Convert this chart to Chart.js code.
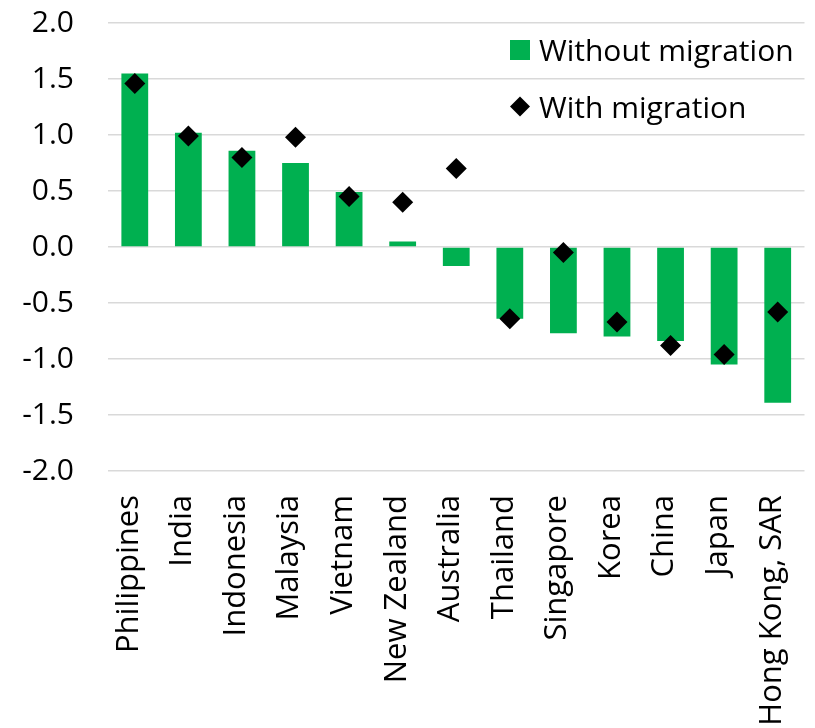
<!DOCTYPE html>
<html>
<head>
<meta charset="utf-8">
<script src="https://cdn.jsdelivr.net/npm/chart.js@4"></script>
<style>
  html, body { margin: 0; padding: 0; background: #fff; }
  #wrap { width: 815px; height: 728px; }
</style>
</head>
<body>
<div id="wrap"><canvas id="chart" width="815" height="728"></canvas></div>
<script>
var countries = ['Philippines', 'India', 'Indonesia', 'Malaysia', 'Vietnam', 'New Zealand',
    'Australia', 'Thailand', 'Singapore', 'Korea', 'China', 'Japan', 'Hong Kong, SAR'];
var withoutMigration = [1.55, 1.02, 0.86, 0.75, 0.49, 0.05, -0.17, -0.64, -0.77, -0.80, -0.84, -1.05, -1.39];
var withMigration = [1.46, 0.99, 0.80, 0.98, 0.45, 0.40, 0.70, -0.64, -0.05, -0.67, -0.88, -0.96, -0.58];
var yMin = -2.0, yMax = 2.0, yStep = 0.5;

var GREEN = '#00B050';
var FONT = '"Open Sans", "Noto Sans", sans-serif';

// legend drawn inside the plot, top right, one item per row
var sideLegend = {
    id: 'sideLegend',
    afterDraw: function(chart) {
        var ctx = chart.ctx;
        ctx.save();
        ctx.font = '30px ' + FONT;
        ctx.textBaseline = 'alphabetic';
        ctx.textAlign = 'left';
        // bars
        ctx.fillStyle = GREEN;
        ctx.fillRect(510, 40, 20, 20);
        ctx.fillStyle = '#000';
        ctx.fillText(chart.data.datasets[0].label, 539, 60.5);
        // markers
        ctx.beginPath();
        ctx.moveTo(520, 96.5); ctx.lineTo(530, 106.5); ctx.lineTo(520, 116.5); ctx.lineTo(510, 106.5);
        ctx.closePath();
        ctx.fill();
        ctx.fillText(chart.data.datasets[1].label, 539, 117.5);
        ctx.restore();
    }
};

new Chart(document.getElementById('chart'), {
    data: {
        labels: countries,
        datasets: [{
            type: 'bar',
            label: 'Without migration',
            data: withoutMigration,
            backgroundColor: GREEN,
            categoryPercentage: 1.0,
            barPercentage: 0.5,
            order: 2
        }, {
            type: 'line',
            label: 'With migration',
            data: withMigration,
            showLine: false,
            pointStyle: 'rectRot',
            pointRadius: 10.5,
            pointHoverRadius: 10.5,
            backgroundColor: '#000',
            borderColor: '#000',
            borderWidth: 0,
            order: 1
        }]
    },
    options: {
        responsive: false,
        animation: false,
        layout: { padding: { top: 23, right: 10, left: 0, bottom: 0 } },
        plugins: { legend: { display: false }, tooltip: { enabled: false } },
        scales: {
            x: {
                grid: { display: false },
                border: { display: false },
                ticks: {
                    minRotation: 90, maxRotation: 90, autoSkip: false,
                    padding: 16,
                    labelOffset: -6,
                    color: '#000',
                    font: { family: FONT, size: 31 }
                },
                afterFit: function(scale) {
                    scale.height = 257;
                    scale.paddingLeft = 0;
                    scale.paddingRight = 0;
                }
            },
            y: {
                min: yMin, max: yMax,
                border: { display: false },
                grid: { color: '#d9d9d9', lineWidth: 1.5, drawTicks: false },
                ticks: {
                    stepSize: yStep,
                    padding: 34,
                    color: '#000',
                    font: { family: FONT, size: 30 },
                    callback: function(v) { return v.toFixed(1); }
                },
                afterFit: function(scale) {
                    scale.width = 108;
                    scale.paddingTop = 0;
                    scale.paddingBottom = 0;
                }
            }
        }
    },
    plugins: [sideLegend]
});
</script>
</body>
</html>
